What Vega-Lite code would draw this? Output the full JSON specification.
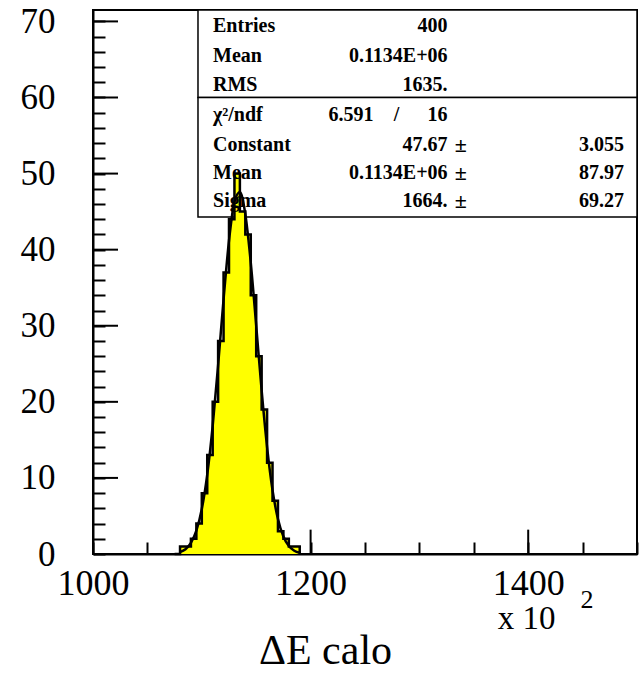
{
  "$schema": "https://vega.github.io/schema/vega-lite/v6.json",
  "width": 544,
  "height": 544,
  "autosize": {"type": "none"},
  "padding": {"left": 93, "top": 10, "right": 3, "bottom": 125},
  "background": "white",
  "config": {"view": {"stroke": "black", "strokeWidth": 2}, "font": "Liberation Serif"},
  "datasets": {
    "hist": [
      {"x": 1075, "n": 0}, {"x": 1080, "n": 1}, {"x": 1085, "n": 1}, {"x": 1090, "n": 2},
      {"x": 1095, "n": 4}, {"x": 1100, "n": 8}, {"x": 1105, "n": 13}, {"x": 1110, "n": 20},
      {"x": 1115, "n": 28}, {"x": 1120, "n": 37}, {"x": 1125, "n": 44}, {"x": 1130, "n": 50},
      {"x": 1135, "n": 45}, {"x": 1140, "n": 42}, {"x": 1145, "n": 34}, {"x": 1150, "n": 26},
      {"x": 1155, "n": 19}, {"x": 1160, "n": 12}, {"x": 1165, "n": 7}, {"x": 1170, "n": 3},
      {"x": 1175, "n": 2}, {"x": 1180, "n": 1}, {"x": 1185, "n": 1}, {"x": 1190, "n": 0}
    ],
    "fit": [
      {"x": 1080, "f": 0.25}, {"x": 1085, "f": 0.62}, {"x": 1090, "f": 1.45}, {"x": 1095, "f": 3.06},
      {"x": 1100, "f": 5.91}, {"x": 1105, "f": 10.44}, {"x": 1110, "f": 16.85}, {"x": 1115, "f": 24.84},
      {"x": 1120, "f": 33.46}, {"x": 1125, "f": 41.18}, {"x": 1130, "f": 46.31}, {"x": 1135, "f": 47.58},
      {"x": 1140, "f": 44.67}, {"x": 1145, "f": 38.31}, {"x": 1150, "f": 30.02}, {"x": 1155, "f": 21.5},
      {"x": 1160, "f": 14.06}, {"x": 1165, "f": 8.4}, {"x": 1170, "f": 4.59}, {"x": 1175, "f": 2.29},
      {"x": 1180, "f": 1.04}, {"x": 1185, "f": 0.43}, {"x": 1190, "f": 0.17}
    ],
    "ymajor": [{"v": 10}, {"v": 20}, {"v": 30}, {"v": 40}, {"v": 50}, {"v": 60}, {"v": 70}],
    "xmajor": [{"v": 1200}, {"v": 1400}]
  },
  "layer": [
    {
      "data": {"values": [{}]},
      "mark": {"type": "rect", "fill": "white", "stroke": "black", "strokeWidth": 1.5},
      "encoding": {
        "x": {"datum": 1096.5, "type": "quantitative"},
        "x2": {"datum": 1500},
        "y": {"datum": 60, "type": "quantitative"},
        "y2": {"datum": 71.5}
      }
    },
    {
      "data": {"values": [{}]},
      "mark": {"type": "rect", "fill": "white", "stroke": "black", "strokeWidth": 1.5},
      "encoding": {
        "x": {"datum": 1096.5, "type": "quantitative"},
        "x2": {"datum": 1500},
        "y": {"datum": 44.3, "type": "quantitative"},
        "y2": {"datum": 60}
      }
    },
    {
      "data": {"name": "hist"},
      "mark": {"type": "area", "interpolate": "step-after", "color": "#ffff00"},
      "encoding": {
        "x": {
          "field": "x", "type": "quantitative",
          "scale": {"domain": [1000, 1500], "nice": false, "zero": false},
          "axis": {
            "values": [1000, 1050, 1100, 1150, 1200, 1250, 1300, 1350, 1400, 1450, 1500],
            "tickCount": 200,
            "format": "d",
            "labelExpr": "(datum.value % 200 === 0 && datum.value < 1500) ? datum.label : ''",
            "tickSize": -12,
            "tickWidth": 2, "tickColor": "black",
            "domainColor": "black", "domainWidth": 2,
            "labelFont": "Liberation Serif", "labelFontSize": 36, "labelColor": "black",
            "labelPadding": 24, "labelFlush": false, "labelOverlap": false, "labelBound": false,
            "grid": false,
            "title": "ΔE calo", "titleFont": "Liberation Serif", "titleFontSize": 42,
            "titleFontWeight": "normal", "titleColor": "black",
            "titleX": 232, "titleY": 109, "titleAlign": "center", "titleBaseline": "alphabetic"
          }
        },
        "y": {
          "field": "n", "type": "quantitative",
          "scale": {"domain": [0, 71.5], "nice": false},
          "axis": {
            "values": [0, 2, 4, 6, 8, 10, 12, 14, 16, 18, 20, 22, 24, 26, 28, 30, 32, 34, 36, 38, 40, 42, 44, 46, 48, 50, 52, 54, 56, 58, 60, 62, 64, 66, 68, 70],
            "tickCount": 200,
            "format": "d",
            "labelExpr": "datum.value % 10 === 0 ? datum.label : ''",
            "tickSize": -12,
            "tickWidth": 2, "tickColor": "black",
            "domainColor": "black", "domainWidth": 2,
            "labelFont": "Liberation Serif", "labelFontSize": 35, "labelColor": "black",
            "labelPadding": 50, "labelFlush": false, "labelOverlap": false, "labelBound": false,
            "grid": false, "title": null
          }
        }
      }
    },
    {
      "data": {"name": "ymajor"},
      "mark": {"type": "rule", "color": "black", "strokeWidth": 2},
      "encoding": {
        "x": {"datum": 1000, "type": "quantitative"},
        "x2": {"datum": 1023},
        "y": {"field": "v", "type": "quantitative"}
      }
    },
    {
      "data": {"name": "xmajor"},
      "mark": {"type": "rule", "color": "black", "strokeWidth": 2},
      "encoding": {
        "x": {"field": "v", "type": "quantitative"},
        "y": {"datum": 0, "type": "quantitative"},
        "y2": {"datum": 3.2}
      }
    },
    {
      "data": {"name": "hist"},
      "mark": {"type": "line", "interpolate": "step-after", "color": "black", "strokeWidth": 2.5},
      "encoding": {
        "x": {"field": "x", "type": "quantitative"},
        "y": {"field": "n", "type": "quantitative"}
      }
    },
    {
      "data": {"name": "fit"},
      "mark": {"type": "line", "interpolate": "monotone", "color": "black", "strokeWidth": 2.5},
      "encoding": {
        "x": {"field": "x", "type": "quantitative"},
        "y": {"field": "f", "type": "quantitative"}
      }
    },
    {"data": {"values": [{}]}, "mark": {"type": "text", "text": "Entries", "align": "left", "baseline": "middle", "fontSize": 20, "fontWeight": "bold", "font": "Liberation Serif", "color": "black"}, "encoding": {"x": {"datum": 1110.3, "type": "quantitative"}, "y": {"datum": 69.4, "type": "quantitative"}}},
    {"data": {"values": [{}]}, "mark": {"type": "text", "text": "Mean", "align": "left", "baseline": "middle", "fontSize": 20, "fontWeight": "bold", "font": "Liberation Serif", "color": "black"}, "encoding": {"x": {"datum": 1110.3, "type": "quantitative"}, "y": {"datum": 65.5, "type": "quantitative"}}},
    {"data": {"values": [{}]}, "mark": {"type": "text", "text": "RMS", "align": "left", "baseline": "middle", "fontSize": 20, "fontWeight": "bold", "font": "Liberation Serif", "color": "black"}, "encoding": {"x": {"datum": 1110.3, "type": "quantitative"}, "y": {"datum": 61.7, "type": "quantitative"}}},
    {"data": {"values": [{}]}, "mark": {"type": "text", "text": "χ²/ndf", "align": "left", "baseline": "middle", "fontSize": 20, "fontWeight": "bold", "font": "Liberation Serif", "color": "black"}, "encoding": {"x": {"datum": 1110.3, "type": "quantitative"}, "y": {"datum": 57.7, "type": "quantitative"}}},
    {"data": {"values": [{}]}, "mark": {"type": "text", "text": "Constant", "align": "left", "baseline": "middle", "fontSize": 20, "fontWeight": "bold", "font": "Liberation Serif", "color": "black"}, "encoding": {"x": {"datum": 1110.3, "type": "quantitative"}, "y": {"datum": 53.8, "type": "quantitative"}}},
    {"data": {"values": [{}]}, "mark": {"type": "text", "text": "Mean", "align": "left", "baseline": "middle", "fontSize": 20, "fontWeight": "bold", "font": "Liberation Serif", "color": "black"}, "encoding": {"x": {"datum": 1110.3, "type": "quantitative"}, "y": {"datum": 50.1, "type": "quantitative"}}},
    {"data": {"values": [{}]}, "mark": {"type": "text", "text": "Sigma", "align": "left", "baseline": "middle", "fontSize": 20, "fontWeight": "bold", "font": "Liberation Serif", "color": "black"}, "encoding": {"x": {"datum": 1110.3, "type": "quantitative"}, "y": {"datum": 46.4, "type": "quantitative"}}},
    {"data": {"values": [{}]}, "mark": {"type": "text", "text": "400", "align": "right", "baseline": "middle", "fontSize": 20, "fontWeight": "bold", "font": "Liberation Serif", "color": "black"}, "encoding": {"x": {"datum": 1325.9, "type": "quantitative"}, "y": {"datum": 69.4, "type": "quantitative"}}},
    {"data": {"values": [{}]}, "mark": {"type": "text", "text": "0.1134E+06", "align": "right", "baseline": "middle", "fontSize": 20, "fontWeight": "bold", "font": "Liberation Serif", "color": "black"}, "encoding": {"x": {"datum": 1325.9, "type": "quantitative"}, "y": {"datum": 65.5, "type": "quantitative"}}},
    {"data": {"values": [{}]}, "mark": {"type": "text", "text": "1635.", "align": "right", "baseline": "middle", "fontSize": 20, "fontWeight": "bold", "font": "Liberation Serif", "color": "black"}, "encoding": {"x": {"datum": 1325.9, "type": "quantitative"}, "y": {"datum": 61.7, "type": "quantitative"}}},
    {"data": {"values": [{}]}, "mark": {"type": "text", "text": "6.591", "align": "right", "baseline": "middle", "fontSize": 20, "fontWeight": "bold", "font": "Liberation Serif", "color": "black"}, "encoding": {"x": {"datum": 1257.7, "type": "quantitative"}, "y": {"datum": 57.7, "type": "quantitative"}}},
    {"data": {"values": [{}]}, "mark": {"type": "text", "text": "/", "align": "center", "baseline": "middle", "fontSize": 20, "fontWeight": "bold", "font": "Liberation Serif", "color": "black"}, "encoding": {"x": {"datum": 1279, "type": "quantitative"}, "y": {"datum": 57.7, "type": "quantitative"}}},
    {"data": {"values": [{}]}, "mark": {"type": "text", "text": "16", "align": "right", "baseline": "middle", "fontSize": 20, "fontWeight": "bold", "font": "Liberation Serif", "color": "black"}, "encoding": {"x": {"datum": 1325.9, "type": "quantitative"}, "y": {"datum": 57.7, "type": "quantitative"}}},
    {"data": {"values": [{}]}, "mark": {"type": "text", "text": "47.67", "align": "right", "baseline": "middle", "fontSize": 20, "fontWeight": "bold", "font": "Liberation Serif", "color": "black"}, "encoding": {"x": {"datum": 1325.9, "type": "quantitative"}, "y": {"datum": 53.8, "type": "quantitative"}}},
    {"data": {"values": [{}]}, "mark": {"type": "text", "text": "0.1134E+06", "align": "right", "baseline": "middle", "fontSize": 20, "fontWeight": "bold", "font": "Liberation Serif", "color": "black"}, "encoding": {"x": {"datum": 1325.9, "type": "quantitative"}, "y": {"datum": 50.1, "type": "quantitative"}}},
    {"data": {"values": [{}]}, "mark": {"type": "text", "text": "1664.", "align": "right", "baseline": "middle", "fontSize": 20, "fontWeight": "bold", "font": "Liberation Serif", "color": "black"}, "encoding": {"x": {"datum": 1325.9, "type": "quantitative"}, "y": {"datum": 46.4, "type": "quantitative"}}},
    {"data": {"values": [{}]}, "mark": {"type": "text", "text": "±", "align": "center", "baseline": "middle", "fontSize": 22, "fontWeight": "bold", "font": "Liberation Serif", "color": "black"}, "encoding": {"x": {"datum": 1338, "type": "quantitative"}, "y": {"datum": 53.8, "type": "quantitative"}}},
    {"data": {"values": [{}]}, "mark": {"type": "text", "text": "±", "align": "center", "baseline": "middle", "fontSize": 22, "fontWeight": "bold", "font": "Liberation Serif", "color": "black"}, "encoding": {"x": {"datum": 1338, "type": "quantitative"}, "y": {"datum": 50.1, "type": "quantitative"}}},
    {"data": {"values": [{}]}, "mark": {"type": "text", "text": "±", "align": "center", "baseline": "middle", "fontSize": 22, "fontWeight": "bold", "font": "Liberation Serif", "color": "black"}, "encoding": {"x": {"datum": 1338, "type": "quantitative"}, "y": {"datum": 46.4, "type": "quantitative"}}},
    {"data": {"values": [{}]}, "mark": {"type": "text", "text": "3.055", "align": "right", "baseline": "middle", "fontSize": 20, "fontWeight": "bold", "font": "Liberation Serif", "color": "black"}, "encoding": {"x": {"datum": 1488, "type": "quantitative"}, "y": {"datum": 53.8, "type": "quantitative"}}},
    {"data": {"values": [{}]}, "mark": {"type": "text", "text": "87.97", "align": "right", "baseline": "middle", "fontSize": 20, "fontWeight": "bold", "font": "Liberation Serif", "color": "black"}, "encoding": {"x": {"datum": 1488, "type": "quantitative"}, "y": {"datum": 50.1, "type": "quantitative"}}},
    {"data": {"values": [{}]}, "mark": {"type": "text", "text": "69.27", "align": "right", "baseline": "middle", "fontSize": 20, "fontWeight": "bold", "font": "Liberation Serif", "color": "black"}, "encoding": {"x": {"datum": 1488, "type": "quantitative"}, "y": {"datum": 46.4, "type": "quantitative"}}},
    {"data": {"values": [{}]}, "mark": {"type": "text", "text": "x 10", "align": "left", "baseline": "middle", "fontSize": 33, "font": "Liberation Serif", "color": "black"}, "encoding": {"x": {"datum": 1372, "type": "quantitative"}, "y": {"datum": -8.5, "type": "quantitative"}}},
    {"data": {"values": [{}]}, "mark": {"type": "text", "text": "2", "align": "left", "baseline": "middle", "fontSize": 26, "font": "Liberation Serif", "color": "black"}, "encoding": {"x": {"datum": 1448, "type": "quantitative"}, "y": {"datum": -6, "type": "quantitative"}}}
  ]
}
